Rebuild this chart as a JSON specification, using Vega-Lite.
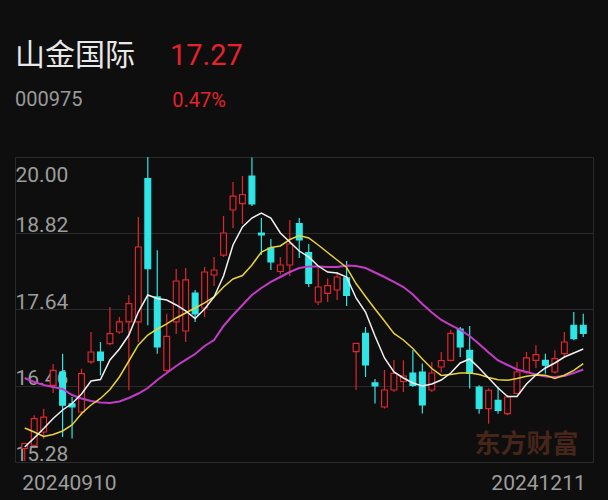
{
  "$schema": "https://vega.github.io/schema/vega-lite/v6.json",
  "autosize": "none",
  "width": 578,
  "height": 305,
  "padding": {"left": 15, "top": 157, "right": 15, "bottom": 38},
  "background": "#0e0e0e",
  "config": {"view": {"stroke": "#2a2a2a", "strokeWidth": 1}},
  "title": {"text": "山金国际", "subtitle": "000975", "anchor": "start", "frame": "group", "orient": "top", "font": "Noto Sans CJK SC", "fontSize": 30, "fontWeight": "normal", "color": "#e8e8e8", "subtitleFont": "Roboto", "subtitleFontSize": 20, "subtitleColor": "#9a9a9a", "subtitlePadding": 19, "offset": -69},
  "data": {"values": [
    {"i":1,"o":15.489,"h":15.574,"l":15.296,"c":15.566,"m5":15.512,"m10":15.806,"m20":16.580},
    {"i":2,"o":15.539,"h":16.003,"l":15.528,"c":15.950,"m5":15.652,"m10":15.744,"m20":16.518},
    {"i":3,"o":15.744,"h":16.105,"l":15.641,"c":15.976,"m5":15.799,"m10":15.675,"m20":16.472},
    {"i":4,"o":16.467,"h":16.797,"l":16.348,"c":16.699,"m5":15.953,"m10":15.706,"m20":16.441},
    {"i":5,"o":16.673,"h":16.956,"l":15.667,"c":16.158,"m5":16.085,"m10":15.760,"m20":16.410},
    {"i":6,"o":16.178,"h":16.286,"l":15.644,"c":16.131,"m5":16.185,"m10":15.853,"m20":16.317},
    {"i":7,"o":16.054,"h":16.724,"l":16.003,"c":16.647,"m5":16.332,"m10":16.031,"m20":16.263},
    {"i":8,"o":16.828,"h":17.292,"l":16.801,"c":16.982,"m5":16.534,"m10":16.162,"m20":16.224},
    {"i":9,"o":16.982,"h":17.137,"l":16.622,"c":16.854,"m5":16.557,"m10":16.263,"m20":16.201},
    {"i":10,"o":17.111,"h":17.679,"l":17.086,"c":17.266,"m5":16.859,"m10":16.402,"m20":16.193},
    {"i":11,"o":17.292,"h":17.524,"l":17.266,"c":17.447,"m5":17.029,"m10":16.596,"m20":16.216},
    {"i":12,"o":17.447,"h":17.860,"l":16.390,"c":17.730,"m5":17.245,"m10":16.843,"m20":16.271},
    {"i":13,"o":17.447,"h":19.072,"l":17.137,"c":18.607,"m5":17.601,"m10":17.091,"m20":16.340},
    {"i":14,"o":19.664,"h":20.000,"l":17.396,"c":18.271,"m5":17.864,"m10":17.245,"m20":16.425},
    {"i":15,"o":17.834,"h":18.556,"l":16.956,"c":17.060,"m5":17.810,"m10":17.338,"m20":16.549},
    {"i":16,"o":16.699,"h":17.575,"l":16.673,"c":17.225,"m5":17.787,"m10":17.416,"m20":16.657},
    {"i":17,"o":17.447,"h":18.267,"l":17.261,"c":18.081,"m5":17.710,"m10":17.509,"m20":16.766},
    {"i":18,"o":17.307,"h":18.282,"l":17.137,"c":18.097,"m5":17.617,"m10":17.586,"m20":16.859},
    {"i":19,"o":17.895,"h":17.942,"l":17.447,"c":17.570,"m5":17.501,"m10":17.663,"m20":16.951},
    {"i":20,"o":17.663,"h":18.298,"l":17.524,"c":18.220,"m5":17.648,"m10":17.741,"m20":17.075},
    {"i":21,"o":18.174,"h":18.453,"l":18.004,"c":18.251,"m5":17.834,"m10":17.834,"m20":17.168},
    {"i":22,"o":18.483,"h":19.087,"l":18.453,"c":18.824,"m5":18.159,"m10":17.988,"m20":17.385},
    {"i":23,"o":19.180,"h":19.613,"l":18.901,"c":19.396,"m5":18.638,"m10":18.112,"m20":17.555},
    {"i":24,"o":19.280,"h":19.706,"l":18.963,"c":19.420,"m5":18.917,"m10":18.166,"m20":17.710},
    {"i":25,"o":19.706,"h":19.992,"l":19.242,"c":19.273,"m5":19.056,"m10":18.329,"m20":17.864},
    {"i":26,"o":18.824,"h":19.056,"l":18.483,"c":18.793,"m5":19.133,"m10":18.530,"m20":17.973},
    {"i":27,"o":18.592,"h":18.731,"l":18.251,"c":18.375,"m5":19.056,"m10":18.600,"m20":18.066},
    {"i":28,"o":18.228,"h":18.453,"l":18.182,"c":18.329,"m5":18.824,"m10":18.623,"m20":18.143},
    {"i":29,"o":18.329,"h":19.025,"l":18.159,"c":18.654,"m5":18.685,"m10":18.723,"m20":18.220},
    {"i":30,"o":18.971,"h":19.056,"l":18.437,"c":18.716,"m5":18.545,"m10":18.785,"m20":18.282},
    {"i":31,"o":18.522,"h":18.654,"l":17.988,"c":18.042,"m5":18.453,"m10":18.747,"m20":18.305},
    {"i":32,"o":17.756,"h":18.282,"l":17.710,"c":17.988,"m5":18.313,"m10":18.638,"m20":18.305},
    {"i":33,"o":17.888,"h":18.120,"l":17.756,"c":18.011,"m5":18.220,"m10":18.522,"m20":18.298},
    {"i":34,"o":17.942,"h":18.220,"l":17.787,"c":18.143,"m5":18.205,"m10":18.406,"m20":18.298},
    {"i":35,"o":18.128,"h":18.391,"l":17.694,"c":17.857,"m5":18.143,"m10":18.290,"m20":18.321},
    {"i":36,"o":16.987,"h":17.122,"l":16.394,"c":17.117,"m5":17.818,"m10":18.042,"m20":18.313},
    {"i":37,"o":17.269,"h":17.369,"l":16.596,"c":16.781,"m5":17.601,"m10":17.841,"m20":18.282},
    {"i":38,"o":16.503,"h":16.565,"l":16.185,"c":16.456,"m5":17.230,"m10":17.648,"m20":18.213},
    {"i":39,"o":16.131,"h":16.704,"l":16.108,"c":16.394,"m5":16.890,"m10":17.462,"m20":18.143},
    {"i":40,"o":16.394,"h":16.859,"l":16.368,"c":16.650,"m5":16.673,"m10":17.269,"m20":18.066},
    {"i":41,"o":16.526,"h":16.854,"l":16.363,"c":16.611,"m5":16.580,"m10":17.168,"m20":17.988},
    {"i":42,"o":16.657,"h":17.013,"l":16.441,"c":16.464,"m5":16.503,"m10":17.037,"m20":17.872},
    {"i":43,"o":16.673,"h":16.804,"l":16.031,"c":16.162,"m5":16.456,"m10":16.874,"m20":17.725},
    {"i":44,"o":16.394,"h":16.828,"l":16.363,"c":16.657,"m5":16.487,"m10":16.727,"m20":17.594},
    {"i":45,"o":16.750,"h":16.982,"l":16.665,"c":16.851,"m5":16.549,"m10":16.619,"m20":17.478},
    {"i":46,"o":16.854,"h":17.323,"l":16.835,"c":17.269,"m5":16.657,"m10":16.634,"m20":17.400},
    {"i":47,"o":17.338,"h":17.369,"l":16.905,"c":17.060,"m5":16.812,"m10":16.657,"m20":17.323},
    {"i":48,"o":17.006,"h":17.385,"l":16.418,"c":16.650,"m5":16.874,"m10":16.657,"m20":17.230},
    {"i":49,"o":16.441,"h":16.467,"l":16.028,"c":16.108,"m5":16.735,"m10":16.634,"m20":17.106},
    {"i":50,"o":16.105,"h":16.418,"l":15.873,"c":16.390,"m5":16.580,"m10":16.588,"m20":16.975},
    {"i":51,"o":16.235,"h":16.441,"l":16.028,"c":16.080,"m5":16.425,"m10":16.554,"m20":16.851},
    {"i":52,"o":16.028,"h":16.312,"l":16.003,"c":16.286,"m5":16.294,"m10":16.544,"m20":16.781},
    {"i":53,"o":16.340,"h":16.828,"l":16.337,"c":16.673,"m5":16.294,"m10":16.572,"m20":16.712},
    {"i":54,"o":16.673,"h":16.982,"l":16.647,"c":16.890,"m5":16.487,"m10":16.606,"m20":16.673},
    {"i":55,"o":16.854,"h":17.086,"l":16.735,"c":16.941,"m5":16.626,"m10":16.626,"m20":16.634},
    {"i":56,"o":16.854,"h":16.956,"l":16.647,"c":16.777,"m5":16.735,"m10":16.622,"m20":16.603},
    {"i":57,"o":16.673,"h":17.009,"l":16.647,"c":16.879,"m5":16.812,"m10":16.572,"m20":16.596},
    {"i":58,"o":16.956,"h":17.292,"l":16.890,"c":17.137,"m5":16.905,"m10":16.622,"m20":16.611},
    {"i":59,"o":17.396,"h":17.601,"l":17.163,"c":17.188,"m5":16.967,"m10":16.699,"m20":16.657},
    {"i":60,"o":17.396,"h":17.575,"l":17.215,"c":17.270,"m5":17.029,"m10":16.804,"m20":16.712}
  ]},
  "resolve": {"axis": {"y": "independent"}},
  "layer": [
    {
      "data": {"values": [{"t": "东方财富"}]},
      "mark": {"type": "text", "font": "Noto Sans CJK SC", "fontWeight": "bold", "fontSize": 26, "color": "#46261a", "align": "center", "baseline": "alphabetic"},
      "encoding": {
        "x": {"datum": 54, "type": "quantitative", "scale": {"domain": [0.5, 60.5], "nice": false, "zero": false}, "axis": null},
        "y": {"datum": 15.42, "type": "quantitative", "scale": {"domain": [15.28, 20], "nice": false, "zero": false}, "axis": null},
        "text": {"field": "t"}
      }
    },
    {
      "data": {"values": [{"i": 1, "date": "20240910"}]},
      "mark": {"type": "text", "font": "Roboto", "fontSize": 21, "color": "#9d9d9d", "align": "left", "baseline": "alphabetic", "dx": -2.5, "dy": 28},
      "encoding": {
        "x": {"field": "i", "type": "quantitative", "scale": {"domain": [0.5, 60.5], "nice": false, "zero": false}, "axis": null},
        "y": {"datum": 15.28, "type": "quantitative", "scale": {"domain": [15.28, 20], "nice": false, "zero": false}, "axis": null},
        "text": {"field": "date"}
      }
    },
    {
      "data": {"values": [{"i": 60, "date": "20241211"}]},
      "mark": {"type": "text", "font": "Roboto", "fontSize": 21, "color": "#9d9d9d", "align": "right", "baseline": "alphabetic", "dx": 2.5, "dy": 28},
      "encoding": {
        "x": {"field": "i", "type": "quantitative", "scale": {"domain": [0.5, 60.5], "nice": false, "zero": false}, "axis": null},
        "y": {"datum": 15.28, "type": "quantitative", "scale": {"domain": [15.28, 20], "nice": false, "zero": false}, "axis": null},
        "text": {"field": "date"}
      }
    },
    {
      "mark": {"type": "rule", "strokeWidth": 1.2},
      "encoding": {
        "x": {"field": "i", "type": "quantitative", "scale": {"domain": [0.5, 60.5], "nice": false, "zero": false}, "axis": null},
        "y": {"field": "h", "type": "quantitative", "scale": {"domain": [15.28, 20], "nice": false, "zero": false},
          "axis": {"values": [15.28, 16.46, 17.64, 18.82, 20], "format": ".2f", "labelAlign": "left", "labelBaseline": "alphabetic", "labelPadding": 0,
            "labelOffset": {"condition": {"test": "datum.value > 19.9", "value": 24.5}, "value": -1.5},
            "ticks": false, "tickSize": 0, "domain": false, "grid": true, "gridColor": "#2a2a2a", "gridWidth": 1,
            "labelColor": "#9d9d9d", "labelFont": "Roboto", "labelFontSize": 21, "labelOverlap": false, "labelFlush": false, "labelBound": false,
            "title": "17.27", "titleAngle": 0, "titleAlign": "left", "titleBaseline": "alphabetic", "titleX": 154.5, "titleY": -93,
            "titleColor": "#e3232b", "titleFont": "Roboto", "titleFontSize": 29, "titleFontWeight": "normal"}},
        "y2": {"field": "l"},
        "color": {"condition": {"test": "datum.c >= datum.o", "value": "#e0262c"}, "value": "#2ee6e6"}
      }
    },
    {
      "mark": {"type": "bar", "width": 5.8, "strokeWidth": 1.2},
      "encoding": {
        "x": {"field": "i", "type": "quantitative", "scale": {"domain": [0.5, 60.5], "nice": false, "zero": false}, "axis": null},
        "y": {"field": "o", "type": "quantitative", "scale": {"domain": [15.28, 20], "nice": false, "zero": false}, "axis": null},
        "y2": {"field": "c"},
        "fill": {"condition": {"test": "datum.c >= datum.o", "value": "#0e0e0e"}, "value": "#2ee6e6"},
        "stroke": {"condition": {"test": "datum.c >= datum.o", "value": "#e0262c"}, "value": "#2ee6e6"}
      }
    },
    {
      "mark": {"type": "line", "strokeWidth": 2, "color": "#c23cc6"},
      "encoding": {
        "x": {"field": "i", "type": "quantitative", "scale": {"domain": [0.5, 60.5], "nice": false, "zero": false}, "axis": null},
        "y": {"field": "m20", "type": "quantitative", "scale": {"domain": [15.28, 20], "nice": false, "zero": false},
          "axis": {"orient": "right", "labels": false, "ticks": false, "domain": false, "grid": false,
            "title": "0.47%", "titleAngle": 0, "titleAlign": "left", "titleBaseline": "alphabetic", "titleX": -421.3, "titleY": -51,
            "titleColor": "#e3232b", "titleFont": "Roboto", "titleFontSize": 20, "titleFontWeight": "normal"}}
      }
    },
    {
      "mark": {"type": "line", "strokeWidth": 1.5, "color": "#e8d23a"},
      "encoding": {
        "x": {"field": "i", "type": "quantitative", "scale": {"domain": [0.5, 60.5], "nice": false, "zero": false}, "axis": null},
        "y": {"field": "m10", "type": "quantitative", "scale": {"domain": [15.28, 20], "nice": false, "zero": false}, "axis": null}
      }
    },
    {
      "mark": {"type": "line", "strokeWidth": 1.5, "color": "#f2f2f2"},
      "encoding": {
        "x": {"field": "i", "type": "quantitative", "scale": {"domain": [0.5, 60.5], "nice": false, "zero": false}, "axis": null},
        "y": {"field": "m5", "type": "quantitative", "scale": {"domain": [15.28, 20], "nice": false, "zero": false}, "axis": null}
      }
    }
  ]
}
